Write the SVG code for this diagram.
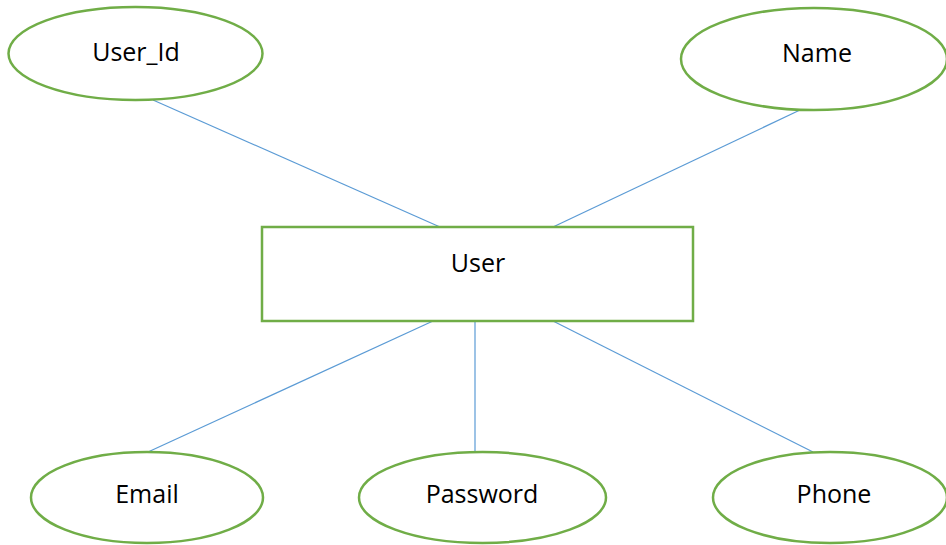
<svg xmlns="http://www.w3.org/2000/svg" width="946" height="545" viewBox="0 0 946 545">
<style>
.shape{fill:#fff;stroke:#70AD47;stroke-width:2.5}
.lbl{font-family:"Open Sans","Liberation Sans",sans-serif;font-size:25px;fill:#000;text-anchor:middle}
.conn{stroke:#5B9BD5;stroke-width:1.2;fill:none}
</style>
<rect width="946" height="545" fill="#fff"/>
<g id="connectors">
<line class="conn" x1="153" y1="100" x2="440" y2="227"/>
<line class="conn" x1="800" y1="110" x2="553" y2="227"/>
<line class="conn" x1="433" y1="321" x2="148" y2="452"/>
<line class="conn" x1="475" y1="321" x2="475" y2="452"/>
<line class="conn" x1="553" y1="321" x2="813" y2="452"/>
</g>
<g id="user_id"><ellipse class="shape" cx="135.5" cy="53.5" rx="127" ry="46.5"/><text class="lbl" x="136" y="61">User_Id</text></g>
<g id="name"><ellipse class="shape" cx="814" cy="59" rx="133" ry="51"/><text class="lbl" x="817" y="62">Name</text></g>
<g id="user"><rect class="shape" x="262" y="227" width="431" height="94"/><text class="lbl" x="478" y="272">User</text></g>
<g id="email"><ellipse class="shape" cx="147" cy="497.5" rx="116" ry="45.5"/><text class="lbl" x="147" y="503">Email</text></g>
<g id="password"><ellipse class="shape" cx="482.5" cy="497.5" rx="123.5" ry="45.5"/><text class="lbl" x="482" y="503">Password</text></g>
<g id="phone"><ellipse class="shape" cx="830" cy="497.5" rx="117" ry="45.5"/><text class="lbl" x="834" y="503">Phone</text></g>
</svg>
